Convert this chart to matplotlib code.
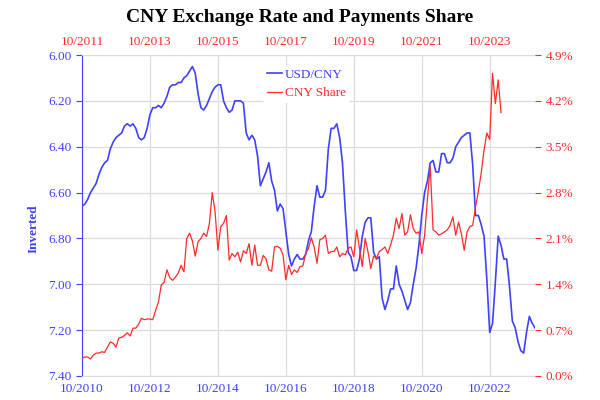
import numpy as np
import matplotlib
matplotlib.use("Agg")
import matplotlib.pyplot as plt
from matplotlib.ticker import FixedLocator, FuncFormatter

plt.rcParams['font.family'] = ['Liberation Serif', 'DejaVu Serif']

# USD/CNY monthly average, Oct 2010 .. Feb 2024 (bottom axis)
usd_cny = [
    6.66, 6.65, 6.63,
    6.60, 6.58, 6.56, 6.52, 6.49, 6.47, 6.46, 6.41, 6.38, 6.36, 6.35, 6.34,
    6.31, 6.30, 6.31, 6.30, 6.32, 6.36, 6.37, 6.36, 6.32, 6.26, 6.23, 6.23,
    6.22, 6.23, 6.21, 6.18, 6.14, 6.13, 6.13, 6.12, 6.12, 6.10, 6.09, 6.07,
    6.05, 6.08, 6.17, 6.23, 6.24, 6.22, 6.19, 6.16, 6.14, 6.13, 6.13, 6.20,
    6.23, 6.25, 6.24, 6.20, 6.20, 6.20, 6.21, 6.34, 6.37, 6.35, 6.37, 6.44,
    6.57, 6.54, 6.51, 6.47, 6.55, 6.59, 6.68, 6.65, 6.67, 6.77, 6.87, 6.92,
    6.89, 6.87, 6.89, 6.89, 6.87, 6.81, 6.77, 6.66, 6.57, 6.62, 6.62, 6.59,
    6.41, 6.32, 6.32, 6.30, 6.36, 6.47, 6.68, 6.86, 6.88, 6.94, 6.94, 6.89,
    6.79, 6.73, 6.71, 6.71, 6.86, 6.89, 6.88, 7.06, 7.11, 7.07, 7.02, 7.02,
    6.92, 7.00, 7.03, 7.07, 7.11, 7.08, 7.00, 6.93, 6.83, 6.70, 6.60, 6.55,
    6.47, 6.46, 6.51, 6.51, 6.43, 6.43, 6.47, 6.47, 6.45, 6.40, 6.38, 6.36,
    6.35, 6.34, 6.34, 6.48, 6.70, 6.70, 6.74, 6.79, 6.98, 7.21, 7.17, 6.99,
    6.79, 6.83, 6.89, 6.89, 7.01, 7.16, 7.19, 7.25, 7.29, 7.30, 7.21, 7.14,
    7.17, 7.19,
]

# CNY share of payments (%), Oct 2011 .. Feb 2024 (top axis)
cny_share = [
    0.27, 0.29, 0.29, 0.26, 0.32, 0.35, 0.35, 0.37, 0.36, 0.44, 0.52, 0.50,
    0.44, 0.58, 0.59, 0.62, 0.66, 0.61, 0.73, 0.73, 0.79, 0.88, 0.86, 0.87,
    0.87, 0.86, 1.00, 1.13, 1.39, 1.43, 1.62, 1.50, 1.46, 1.51, 1.57, 1.69,
    1.59, 2.10, 2.18, 2.06, 1.83, 2.05, 2.10, 2.18, 2.13, 2.33, 2.80, 2.51,
    1.92, 2.28, 2.33, 2.45, 1.77, 1.87, 1.82, 1.89, 1.74, 1.91, 1.87, 2.02,
    1.69, 2.00, 1.69, 1.69, 1.84, 1.79, 1.62, 1.60, 1.97, 1.98, 1.95, 1.85,
    1.47, 1.69, 1.55, 1.62, 1.58, 1.67, 1.68, 1.87, 1.95, 2.11, 1.97, 1.72,
    2.08, 2.10, 2.15, 1.87, 1.90, 1.90, 1.97, 1.82, 1.87, 1.85, 1.95, 1.97,
    1.82, 2.23, 1.95, 1.67, 2.10, 1.90, 1.64, 1.83, 1.80, 1.90, 1.93, 1.97,
    1.87, 2.00, 2.15, 2.41, 2.25, 2.48, 2.15, 2.20, 2.46, 2.25, 2.18, 2.20,
    1.87, 2.14, 2.70, 3.20, 2.23, 2.20, 2.15, 2.17, 2.20, 2.23, 2.30, 2.43,
    2.15, 2.35, 2.17, 1.92, 2.20, 2.28, 2.30, 2.58, 2.82, 3.10, 3.45, 3.71,
    3.61, 4.62, 4.16, 4.52, 4.02,
]

bottom_labels = ["10/2010", "10/2012", "10/2014", "10/2016", "10/2018", "10/2020", "10/2022"]
top_labels = ["10/2011", "10/2013", "10/2015", "10/2017", "10/2019", "10/2021", "10/2023"]
left_ticks = [6.00, 6.20, 6.40, 6.60, 6.80, 7.00, 7.20, 7.40]
right_ticks = [0.0, 0.7, 1.4, 2.1, 2.8, 3.5, 4.2, 4.9]

BLUE = '#4040ff'
RED = '#ff2a2a'
GRID = '#dcdcdc'
n_months = 160

fig = plt.figure(figsize=(6, 4), dpi=100)
pos = [82/600, 1-376/400, (535-82)/600, (376-55)/400]
ax = fig.add_axes(pos)
ax2 = fig.add_axes(pos, frameon=False)

x1 = np.arange(len(usd_cny))
x2 = np.arange(len(cny_share))

ax.plot(x1, usd_cny, color=BLUE, lw=1.2, label='USD/CNY', zorder=3)
ax.set_xlim(0, n_months)
ax.set_ylim(7.40, 6.00)
ax.yaxis.set_major_locator(FixedLocator(left_ticks))
ax.yaxis.set_major_formatter(FuncFormatter(lambda v, p: f"{v:.2f}"))
ax.set_xticks(np.arange(0, 24*len(bottom_labels), 24))
ax.set_xticklabels(bottom_labels)
ax.grid(True, color=GRID, lw=0.9)
ax.set_axisbelow(True)
ax.tick_params(axis='y', colors=BLUE, labelsize=9.5, length=4, width=0.8)
ax.tick_params(axis='x', colors=GRID, labelcolor=BLUE, labelsize=9.5, length=0, pad=5)
ax.set_ylabel('Inverted', color=BLUE, fontsize=9.5, fontweight='bold')
ax.yaxis.set_label_coords(-0.093, 0.46)
ax.spines['left'].set_color(BLUE)
ax.spines['right'].set_visible(False)
ax.spines['top'].set_color(GRID)
ax.spines['bottom'].set_color(GRID)

ax2.plot(x2, cny_share, color=RED, lw=0.9, label='CNY Share', zorder=3)
ax2.set_xlim(0, n_months)
ax2.set_ylim(0, 4.9)
ax2.patch.set_visible(False)
ax2.xaxis.tick_top()
ax2.yaxis.tick_right()
ax2.set_xticks(np.arange(0, 24*len(top_labels), 24))
ax2.set_xticklabels(top_labels)
ax2.yaxis.set_major_locator(FixedLocator(right_ticks))
ax2.yaxis.set_major_formatter(FuncFormatter(lambda v, p: f"{v:.1f}%"))
ax2.tick_params(axis='y', colors=RED, labelsize=9.5, length=4, width=0.8)
ax2.tick_params(axis='x', colors=GRID, labelcolor=RED, labelsize=9.5, length=0, pad=5)
ax2.spines['right'].set_visible(True)
ax2.spines['right'].set_color(RED)
ax2.spines['right'].set_linewidth(0.8)

h1, l1 = ax.get_legend_handles_labels()
h2, l2 = ax2.get_legend_handles_labels()
leg = ax2.legend(h1 + h2, l1 + l2, loc='upper left', bbox_to_anchor=(0.385, 0.99),
                 frameon=True, fontsize=9.5, handlelength=1.15, handletextpad=0.2,
                 labelspacing=0.45, borderpad=0.3)
leg.get_frame().set_facecolor('white')
leg.get_frame().set_edgecolor('none')
leg.get_frame().set_alpha(1)
for t, c in zip(leg.get_texts(), [BLUE, RED]):
    t.set_color(c)

fig.suptitle('CNY Exchange Rate and Payments Share', x=0.5, y=0.978,
             fontsize=14, fontweight='bold')

fig.savefig('out.png', dpi=100)
